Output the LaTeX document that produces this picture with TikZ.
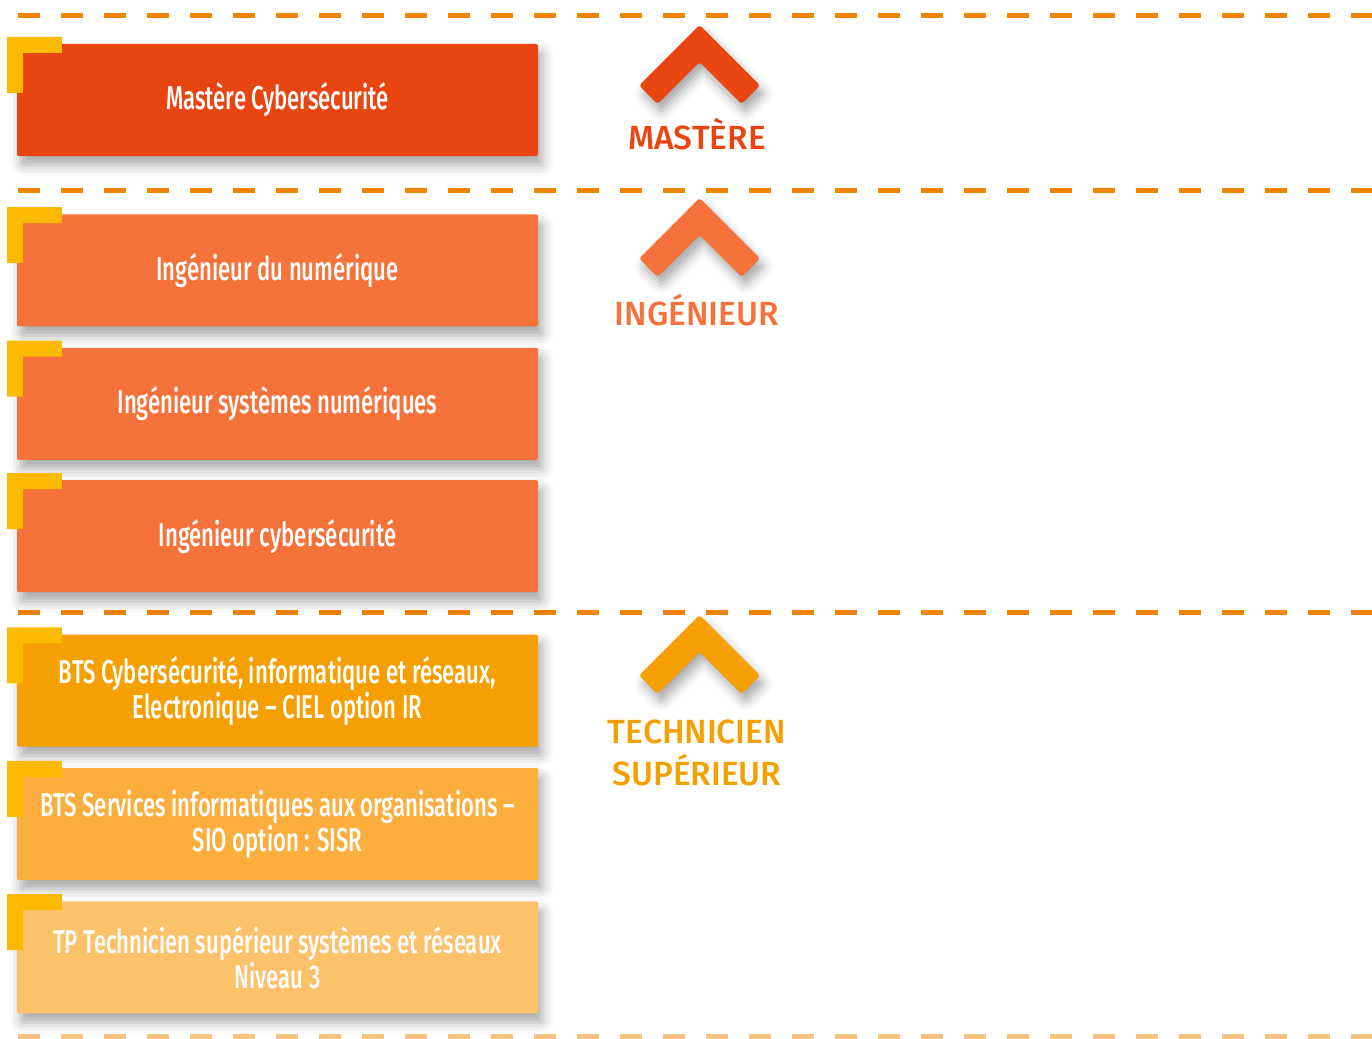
\documentclass[tikz,border=0pt]{standalone}
\usepackage{fontspec}
\usetikzlibrary{positioning,shadows.blur}
\newfontfamily\boxfont{Fira Sans Medium}[FakeStretch=0.67]
\newfontfamily\levelfont{Fira Sans Medium}
\definecolor{mastere}{HTML}{E84511}
\definecolor{ingenieur}{HTML}{F5733B}
\definecolor{ciel}{HTML}{F59F00}
\definecolor{sio}{HTML}{FBAE3B}
\definecolor{tp}{HTML}{FDC169}
\definecolor{coin}{HTML}{FBBA00}
\definecolor{tirets}{HTML}{F08300}

\begin{document}
\begin{tikzpicture}[x=1pt,y=-1pt,
    formation/.style={rounded corners=2pt,minimum width=521pt,minimum height=112pt,text=white,align=center,
        font=\boxfont\fontsize{33}{35}\selectfont,
        blur shadow={shadow xshift=4pt,shadow yshift=-9pt,shadow blur radius=11pt,shadow opacity=35}},
    niveau/.style={font=\levelfont\fontsize{33.5}{40}\selectfont,anchor=base},
    separation/.style={draw=tirets,line width=5pt,dash pattern=on 22pt off 21pt}]
    \useasboundingbox (0,0) rectangle (1372,1038);
    % separations
    \foreach \y in {16,190,612} \draw[separation] (18,\y) -- (1372,\y);
    \draw[separation,opacity=.5] (18,1036) -- (1372,1036);
    % formations
    \node[formation, fill=mastere] (mastere) at (277.5,100) {Mastère Cybersécurité};
    \node[formation, fill=ingenieur, below=58pt of mastere] (numerique) {Ingénieur du numérique};
    \node[formation, fill=ingenieur, below=21pt of numerique] (systemes) {Ingénieur systèmes numériques};
    \node[formation, fill=ingenieur, below=20pt of systemes] (cyber) {Ingénieur cybersécurité};
    \node[formation, fill=ciel, below=42pt of cyber] (btsciel) {BTS Cybersécurité, informatique et réseaux,\\Electronique – CIEL option IR};
    \node[formation, fill=sio, below=21pt of btsciel] (btssio) {BTS Services informatiques aux organisations –\\SIO option : SISR};
    \node[formation, fill=tp, below=21pt of btssio] (tpres) {TP Technicien supérieur systèmes et réseaux\\Niveau 3};
    % coins jaunes
    \foreach \n in {mastere,numerique,systemes,cyber,btsciel,btssio,tpres}
        \fill[coin, shift={(\n.north west)}] (-10,-7) -- (45,-7) -- (45,9) -- (6,9) -- (6,49) -- (-10,49) -- cycle;
    % chevrons
    \foreach \dy/\c in {0/mastere,173/ingenieur,590/ciel}
        \fill[\c, rounded corners=3pt, shift={(0,\dy)},
            blur shadow={shadow xshift=4pt,shadow yshift=-8pt,shadow blur radius=10pt,shadow opacity=35}]
            (699.5,25) -- (760,85.5) -- (741.5,104) -- (699.5,62) -- (657.5,104) -- (639,85.5) -- cycle;
    % niveaux
    \node[niveau, text=mastere] (lmastere) at (697,149) {MASTÈRE};
    \node[niveau, text=ingenieur] (lingenieur) at (697,325) {INGÉNIEUR};
    \node[niveau, text=ciel] (ltechnicien) at (697,743) {TECHNICIEN};
    \node[niveau, text=ciel] (lsuperieur) at (697,785) {SUPÉRIEUR};
\end{tikzpicture}
\end{document}
